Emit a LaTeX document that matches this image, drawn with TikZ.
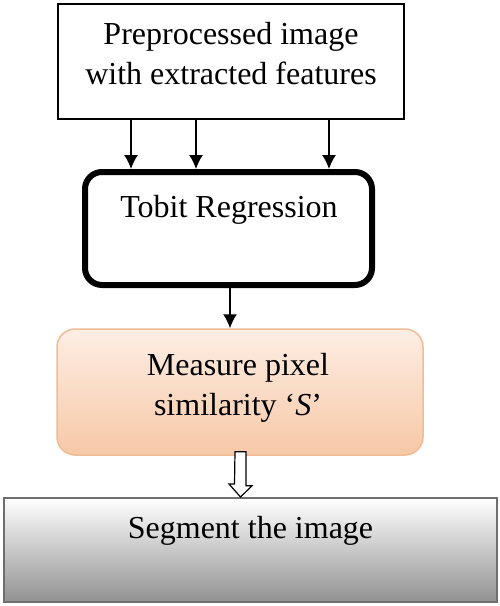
\documentclass[tikz,border=0pt]{standalone}
\usepackage{fontspec}
\setmainfont{Liberation Serif}
\usetikzlibrary{arrows.meta,calc}

\begin{document}
\begin{tikzpicture}[x=1pt,y=-1pt]
% Define box colours
\definecolor{peachtop}{RGB}{253,238,228}
\definecolor{peachbot}{RGB}{246,200,166}
\definecolor{peachline}{RGB}{240,188,150}
\definecolor{greybot}{RGB}{145,145,145}
\definecolor{greyline}{RGB}{110,110,110}
\tikzset{
  txt/.style={font=\fontsize{32}{40}\selectfont,align=center,inner sep=0pt},
  arr/.style={-{Latex[length=14pt,width=14pt]},line width=1.5pt},
  hollow/.style={draw,line width=1.2pt,fill=white,line join=miter}
}
\useasboundingbox (0,0) rectangle (500,606);

% Draw boxes
\node[draw,line width=1.5pt,minimum width=346,minimum height=115,inner sep=0pt] (pre) at (231,61.5) {};
\node[txt] (pretxt) at (231,54) {Preprocessed image\\with extracted features};
\node[draw,line width=6pt,rounded corners=17,minimum width=287,minimum height=113,inner sep=0pt] (tobit) at (228.5,228.5) {};
\node[txt] (tobittxt) at (229,210) {Tobit Regression};
\node[draw=peachline,line width=1.5pt,rounded corners=18,top color=peachtop,bottom color=peachbot,minimum width=366,minimum height=126,inner sep=0pt] (meas) at (240,392) {};
\node[txt] (meastxt) at (238,388) {Measure pixel\\similarity `\textit{S}'};
\node[draw=greyline,line width=2pt,top color=white,bottom color=greybot,minimum width=493,minimum height=104,inner sep=0pt] (seg) at (250.5,550) {};
\node[txt] (segtxt) at (250.5,531) {Segment the image};

% Add arrows
\draw[arr] (pre.south -| 131,0) -- (tobit.north -| 131,0);
\draw[arr] (pre.south -| 196,0) -- (tobit.north -| 196,0);
\draw[arr] (pre.south -| 329,0) -- (tobit.north -| 329,0);
\draw[arr] (tobit.south -| 230,0) -- (meas.north -| 230,0);

% Add hollow arrow
\draw[hollow] ($(meas.south -| 240.5,0)+(-5.5,-4)$) -- ++(11,0) -- ++(0,34) -- ++(6,0)
  -- (seg.north -| 240.5,0) -- ++(-11.5,-13) -- ++(5.5,0) -- cycle;
\end{tikzpicture}
\end{document}
